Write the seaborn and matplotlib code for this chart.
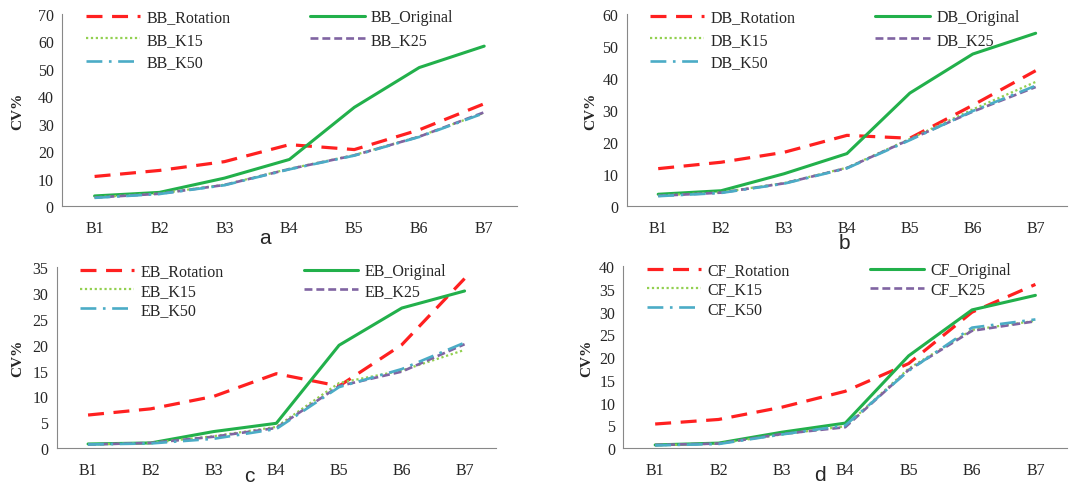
import matplotlib
matplotlib.use("Agg")
import matplotlib.pyplot as plt
import seaborn as sns
import pandas as pd

bands = ["B1", "B2", "B3", "B4", "B5", "B6", "B7"]
methods = ["Rotation", "Original", "K15", "K25", "K50"]

bb_rotation = [10.8, 13.0, 16.2, 22.4, 20.6, 27.8, 37.3]
bb_original = [3.7, 5.0, 10.2, 17.0, 36.0, 50.5, 58.3]
bb_k15 = [3.2, 4.6, 7.8, 13.6, 18.6, 25.4, 34.0]
bb_k25 = [3.1, 4.5, 7.7, 13.5, 18.5, 25.3, 34.2]
bb_k50 = [3.0, 4.4, 7.6, 13.4, 18.4, 25.2, 33.9]

db_rotation = [11.7, 13.7, 16.8, 22.1, 21.2, 31.5, 42.3]
db_original = [3.7, 4.8, 10.1, 16.4, 35.3, 47.5, 54.0]
db_k15 = [3.3, 4.3, 7.2, 12.0, 21.0, 30.2, 38.8]
db_k25 = [3.2, 4.2, 7.1, 11.9, 20.8, 29.5, 37.2]
db_k50 = [3.1, 4.1, 7.0, 11.8, 20.6, 29.7, 37.6]

eb_rotation = [6.4, 7.6, 10.0, 14.4, 12.0, 20.0, 32.8]
eb_original = [0.8, 1.0, 3.2, 4.8, 19.9, 27.1, 30.4]
eb_k15 = [0.7, 1.0, 2.3, 4.1, 12.6, 15.0, 19.0]
eb_k25 = [0.7, 1.0, 2.2, 3.9, 12.0, 14.8, 20.1]
eb_k50 = [0.7, 0.9, 1.8, 3.7, 11.8, 15.3, 20.4]

cf_rotation = [5.3, 6.3, 9.0, 12.5, 18.6, 29.9, 36.0]
cf_original = [0.7, 1.1, 3.5, 5.5, 20.3, 30.4, 33.6]
cf_k15 = [0.6, 1.0, 3.0, 4.8, 17.5, 26.0, 28.0]
cf_k25 = [0.7, 1.0, 3.1, 4.6, 17.2, 25.8, 27.9]
cf_k50 = [0.6, 0.9, 3.0, 5.0, 17.0, 26.5, 28.3]

panels = [
    ("BB", "a", [bb_rotation, bb_original, bb_k15, bb_k25, bb_k50], 70, 10),
    ("DB", "b", [db_rotation, db_original, db_k15, db_k25, db_k50], 60, 10),
    ("EB", "c", [eb_rotation, eb_original, eb_k15, eb_k25, eb_k50], 35, 5),
    ("CF", "d", [cf_rotation, cf_original, cf_k15, cf_k25, cf_k50], 40, 5),
]

colors = {"Rotation": "#FF2020", "Original": "#22B04B", "K15": "#92D050",
          "K25": "#8064A2", "K50": "#4BACC6"}
styles = {"Rotation": (0, (5, 3)), "Original": "-", "K15": (0, (1, 1.2)),
          "K25": (0, (3, 1.5)), "K50": (0, (6, 2.5, 1, 2.5))}
widths = {"Rotation": 2.3, "Original": 2.2, "K15": 1.6, "K25": 1.9, "K50": 1.9}

sns.set_style("white")
plt.rcParams["font.family"] = ["Liberation Serif", "DejaVu Serif"]

fig = plt.figure(figsize=(10.9, 4.85), dpi=100)
rects = [
    (0.057, 0.573, 0.417, 0.396),
    (0.575, 0.573, 0.404, 0.396),
    (0.052, 0.074, 0.403, 0.373),
    (0.572, 0.074, 0.407, 0.375),
]
label_pos = [(0.243, 0.497), (0.775, 0.486), (0.229, 0.006), (0.752, 0.008)]
ylabel_pad = [10, 4, 6, 4]
leg_spacing = [0.42, 0.42, 0.2, 0.2]

for (prefix, letter, series, ymax, ystep), rect, lp, lpad, lsp in zip(
        panels, rects, label_pos, ylabel_pad, leg_spacing):
    ax = fig.add_axes(rect)
    for m, vals in zip(methods, series):
        df = pd.DataFrame({"band": bands, "cv": vals})
        sns.lineplot(data=df, x="band", y="cv", ax=ax, color=colors[m],
                     linestyle=styles[m], linewidth=widths[m],
                     label=f"{prefix}_{m}", sort=False)
    ax.set_xlim(-0.5, 6.5)
    ax.set_ylim(0, ymax)
    ax.set_yticks(range(0, ymax + 1, ystep))
    ax.set_xticks(range(7))
    ax.set_xticklabels(bands)
    ax.set_xticks([i - 0.5 for i in range(8)], minor=True)
    ax.tick_params(axis="x", which="major", length=0, pad=10, labelsize=11.5)
    ax.tick_params(axis="x", which="minor", length=5, color="#888888", width=0.8)
    ax.tick_params(axis="y", length=4, color="#888888", width=0.8, labelsize=11.5, pad=2)
    for s in ["top", "right"]:
        ax.spines[s].set_visible(False)
    for s in ["left", "bottom"]:
        ax.spines[s].set_color("#888888")
        ax.spines[s].set_linewidth(0.8)
    ax.set_xlabel("")
    ax.set_ylabel("CV%", fontsize=11, fontweight="bold", labelpad=lpad)
    h, l = ax.get_legend_handles_labels()
    order = [0, 2, 4, 1, 3]
    ax.legend([h[i] for i in order], [l[i] for i in order], ncol=2, frameon=False,
              loc="upper left", bbox_to_anchor=(0.02, 1.1), handlelength=3.4,
              columnspacing=5.0, labelspacing=lsp, fontsize=11.5, handletextpad=0.4)
    fig.text(lp[0], lp[1], letter, fontsize=15, family="Liberation Sans",
             ha="center", va="baseline")

fig.savefig("out.png", dpi=100)
